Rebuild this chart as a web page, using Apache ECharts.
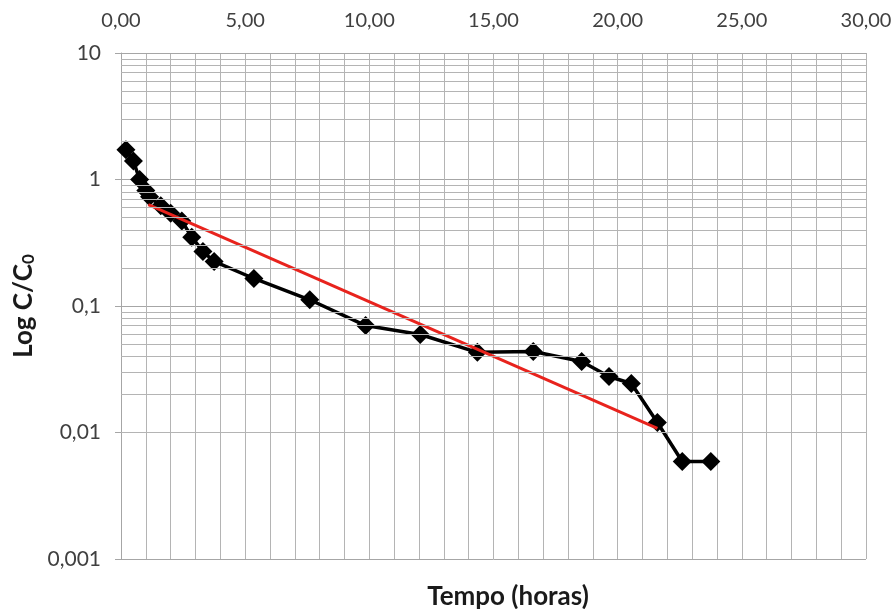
<!DOCTYPE html>
<html>
<head>
<meta charset="utf-8">
<script src="https://cdn.jsdelivr.net/npm/echarts/dist/echarts.min.js"></script>
<style>
  html, body { margin: 0; padding: 0; background: #ffffff; }
  #chart { width: 895px; height: 609px; }
</style>
</head>
<body>
<div id="chart"></div>
<script>
// Measured decay: elapsed time (h) and relative concentration C/C0
const tempoHoras = [0.2, 0.5, 0.75, 1.0, 1.15, 1.6, 2.0, 2.45, 2.85, 3.3, 3.75,
                    5.35, 7.6, 9.85, 12.05, 14.35, 16.6, 18.55, 19.65, 20.55,
                    21.6, 22.6, 23.75];
const concRelativa = [1.72, 1.40, 1.00, 0.82, 0.73, 0.62, 0.54, 0.47, 0.35, 0.27, 0.225,
                      0.165, 0.112, 0.070, 0.0595, 0.043, 0.0437, 0.0364, 0.0277, 0.0244,
                      0.0120, 0.0059, 0.0059];

// Exponential fit drawn between its two end points
const ajusteTempo = [1.1, 21.6];
const ajusteConc = [0.634, 0.0108];

// Axis ranges and tick labels
const xMin = 0, xMax = 30, xStep = 5;
const yMin = 0.001, yMax = 10;
const yTickLabels = { '-3': '0,001', '-2': '0,01', '-1': '0,1', '0': '1', '1': '10' };

// Intermediate log grid lines (2..9 within each decade)
const logFactors = [2, 3, 4, 5, 6, 7, 8, 9];
const decades = [0.001, 0.01, 0.1, 1];
const minorGridValues = [];
decades.forEach(d => logFactors.forEach(f => minorGridValues.push(+(d * f).toPrecision(3))));

const FONT = 'Lato, "Open Sans", sans-serif';
const GRID_COLOR = '#b4b4b4';
const MAJOR_COLOR = '#a6a6a6';

const chart = echarts.init(document.getElementById('chart'), null, { renderer: 'canvas' });

chart.setOption({
  animation: false,
  backgroundColor: '#ffffff',
  textStyle: { fontFamily: FONT },
  title: {
    text: 'Tempo (horas)',
    left: 503,
    top: 579,
    textAlign: 'center',
    textStyle: { fontFamily: FONT, fontSize: 26, fontWeight: 'bold', color: '#1a1a1a' }
  },
  grid: { left: 121, right: 29, top: 53, bottom: 50, outerBoundsMode: 'none', containLabel: false },
  xAxis: {
    type: 'value',
    position: 'top',
    min: xMin,
    max: xMax,
    interval: xStep,
    axisLine: { show: true, lineStyle: { color: MAJOR_COLOR, width: 1 } },
    axisTick: { show: false },
    axisLabel: {
      margin: 22,
      fontFamily: FONT,
      fontSize: 20,
      color: '#404040',
      formatter: v => v.toFixed(2).replace('.', ',')
    },
    splitLine: { show: true, lineStyle: { color: GRID_COLOR, width: 1 } },
    minorTick: { show: false, splitNumber: 5 },
    minorSplitLine: { show: true, lineStyle: { color: GRID_COLOR, width: 1 } }
  },
  yAxis: {
    type: 'log',
    logBase: 10,
    min: yMin,
    max: yMax,
    name: 'Log C/C{sub|0}',
    nameLocation: 'middle',
    nameRotate: 90,
    nameGap: 76,
    nameTextStyle: {
      fontFamily: FONT,
      fontSize: 26,
      fontWeight: 'bold',
      color: '#1a1a1a',
      rich: {
        sub: { fontFamily: FONT, fontSize: 17, fontWeight: 'bold', color: '#1a1a1a', verticalAlign: 'bottom', padding: [10, 0, 0, 0] }
      }
    },
    axisLine: { show: true, lineStyle: { color: MAJOR_COLOR, width: 1 } },
    axisTick: { show: true, inside: false, length: 6, lineStyle: { color: MAJOR_COLOR } },
    axisLabel: {
      margin: 20,
      fontFamily: FONT,
      fontSize: 21,
      color: '#404040',
      formatter: v => yTickLabels[String(Math.round(Math.log10(v)))] || ''
    },
    splitLine: { show: true, lineStyle: { color: MAJOR_COLOR, width: 1 } }
  },
  series: [
    {
      name: 'grade-log',
      type: 'line',
      data: [],
      silent: true,
      z: 1,
      markLine: {
        silent: true,
        symbol: 'none',
        animation: false,
        label: { show: false },
        lineStyle: { color: GRID_COLOR, width: 1, type: 'solid' },
        emphasis: { disabled: true },
        data: minorGridValues.map(v => ({ yAxis: v }))
      }
    },
    {
      name: 'C/C0',
      type: 'line',
      data: tempoHoras.map((t, i) => [t, concRelativa[i]]),
      symbol: 'diamond',
      symbolSize: 19,
      showSymbol: true,
      itemStyle: { color: '#000000' },
      lineStyle: { color: '#000000', width: 3.5 },
      z: 3
    },
    {
      name: 'Ajuste',
      type: 'line',
      data: ajusteTempo.map((t, i) => [t, ajusteConc[i]]),
      symbol: 'none',
      lineStyle: { color: '#e8231d', width: 3 },
      z: 4
    }
  ]
});
</script>
</body>
</html>
